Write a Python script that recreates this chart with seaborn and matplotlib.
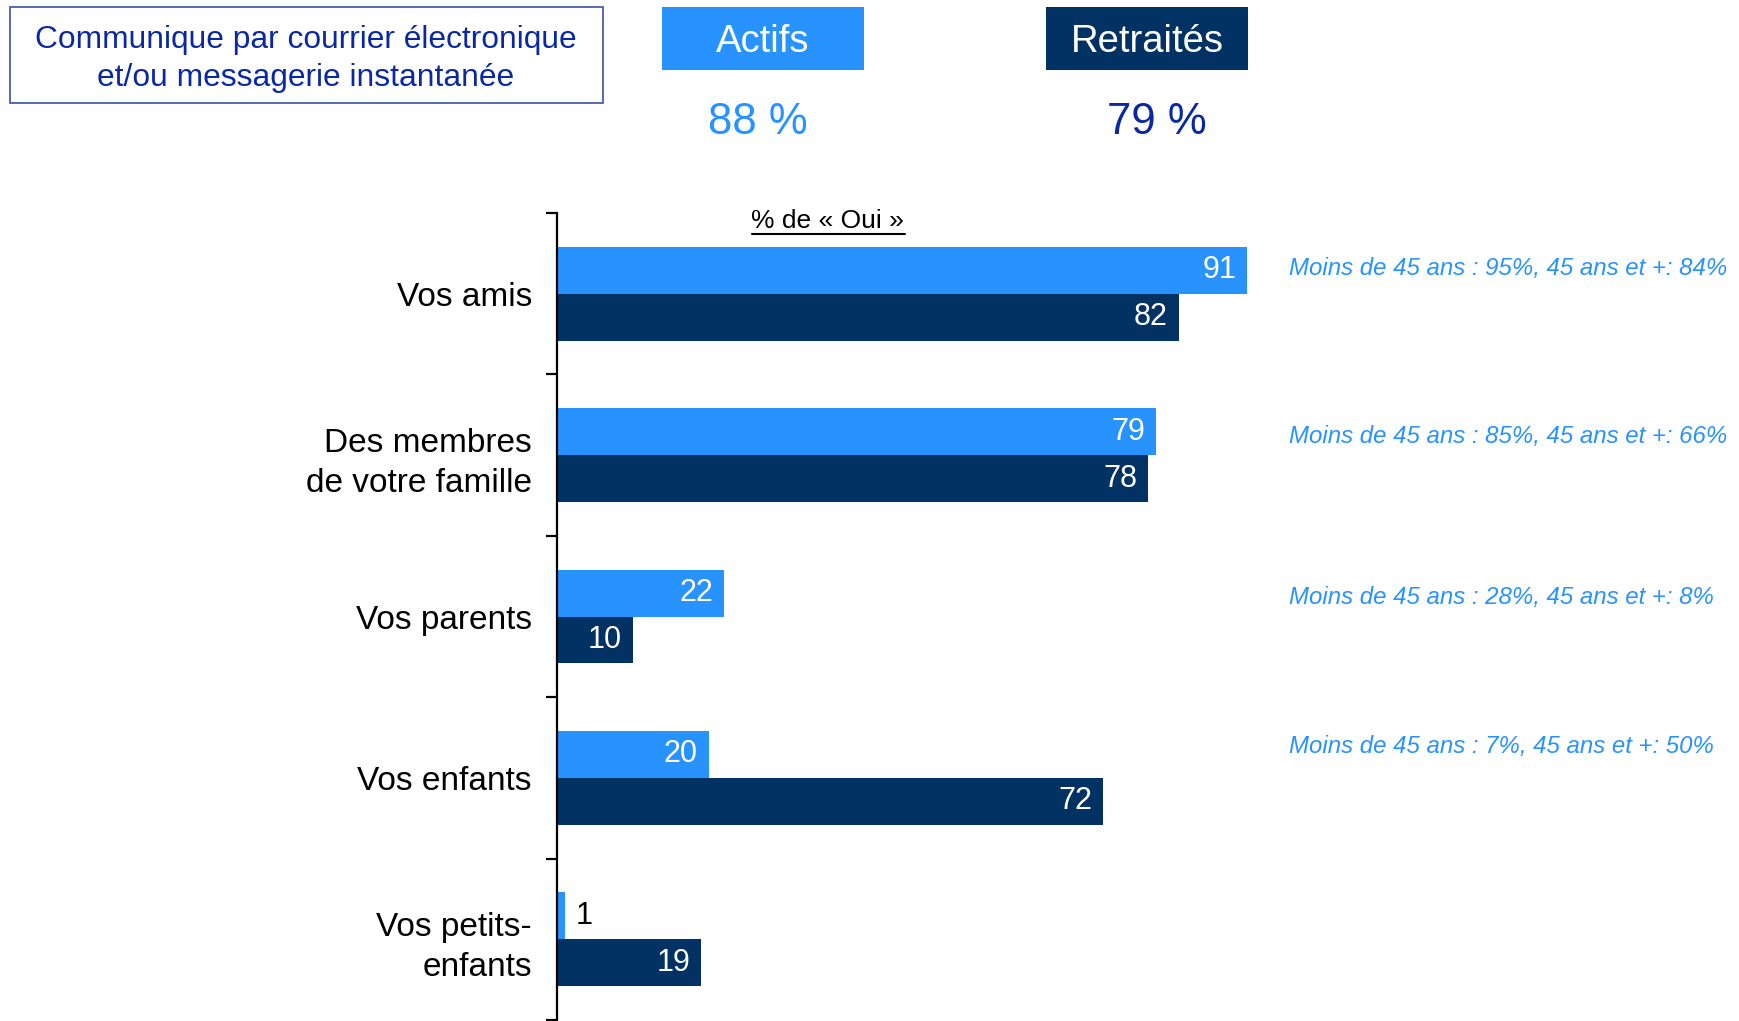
import pandas as pd
import matplotlib.pyplot as plt
import seaborn as sns
from matplotlib.patches import Rectangle

# Data
categories = ["Vos amis", "Des membres\nde votre famille", "Vos parents",
              "Vos enfants", "Vos petits-\nenfants"]
actifs = [91, 79, 22, 20, 1]
retraites = [82, 78, 10, 72, 19]
groups = ["Actifs", "Retraités"]
totals = ["88 %", "79 %"]
notes = ["Moins de 45 ans : 95%, 45 ans et +: 84%",
         "Moins de 45 ans : 85%, 45 ans et +: 66%",
         "Moins de 45 ans : 28%, 45 ans et +: 8%",
         "Moins de 45 ans : 7%, 45 ans et +: 50%"]

light_blue = "#2893fe"
navy = "#013263"
title_blue = "#0a28a0"

W, H = 1740, 1021

sns.set_style("white")
plt.rcParams['font.family'] = ['Liberation Sans', 'DejaVu Sans']
plt.rcParams['text.color'] = 'black'
plt.rcParams['ytick.color'] = 'black'
plt.rcParams['ytick.labelcolor'] = 'black'

df = pd.DataFrame({
    "categorie": categories * 2,
    "groupe": [groups[0]] * len(categories) + [groups[1]] * len(categories),
    "valeur": actifs + retraites,
})

fig = plt.figure(figsize=(W / 100, H / 100), dpi=100)
ax = fig.add_axes([557 / W, 1 / H, 758 / W, 807 / H])

sns.barplot(data=df, y="categorie", x="valeur", hue="groupe", orient="h",
            palette=[light_blue, navy], width=0.58, gap=0, ax=ax,
            legend=False, saturation=1, errorbar=None, linewidth=0)

ax.set_xlim(0, 100)
ax.set_ylim(len(categories) - 0.5, -0.5)
ax.set_xlabel("")
ax.set_ylabel("")
ax.set_xticks([])
for side in ["top", "right", "bottom"]:
    ax.spines[side].set_visible(False)
ax.spines["left"].set_color("black")
ax.spines["left"].set_linewidth(1.6)
ax.set_yticks(range(len(categories)))
ax.set_yticklabels(categories, fontsize=24, ha="right", multialignment="right",
                   linespacing=1.4)
ax.tick_params(axis="y", which="major", length=0, pad=18, left=False)
ax.set_yticks([i - 0.5 for i in range(len(categories) + 1)], minor=True)
ax.tick_params(axis="y", which="minor", length=8, width=1.6, color="black",
               direction="out", left=True)

# value labels
for cont in ax.containers:
    for bar in cont:
        w = bar.get_width()
        yc = bar.get_y() + bar.get_height() / 2
        if w < 5:
            ax.text(w + 1.5, yc, f"{w:.0f}", ha="left", va="center",
                    fontsize=22, color="black")
        else:
            ax.text(w - 1.4, yc, f"{w:.0f}", ha="right", va="center",
                    fontsize=22, color="white")

ax.text(0.357, 0.99, "% de « Oui »", transform=ax.transAxes, ha="center",
        va="center", fontsize=19)
ax.plot([0.257, 0.459], [0.974, 0.974], transform=ax.transAxes, color="black",
        lw=1.5, clip_on=False)

# notes to the right
note_y_px = [269, 436, 597, 746]
for note, ypx in zip(notes, note_y_px):
    fig.text(1289 / W, 1 - ypx / H, note, ha="left", va="center",
             fontsize=17.3, style="italic", color=light_blue)

# header box
fig.patches.append(Rectangle((10 / W, 1 - 103 / H), 593 / W, 96 / H,
                             transform=fig.transFigure, facecolor="white",
                             edgecolor="#3a50a8", lw=1.2))
fig.text(306 / W, 1 - 59 / H,
         "Communique par courrier électronique\net/ou messagerie instantanée",
         ha="center", va="center", fontsize=22.9, color=title_blue,
         linespacing=1.32)

# group boxes with totals
for x0, name, total, tx, col, tcol in [(662, groups[0], totals[0], 758, light_blue, light_blue),
                                        (1046, groups[1], totals[1], 1157, navy, title_blue)]:
    fig.patches.append(Rectangle((x0 / W, 1 - 70 / H), 202 / W, 63 / H,
                                 transform=fig.transFigure, facecolor=col,
                                 edgecolor="none"))
    fig.text((x0 + 101) / W, 1 - 42 / H, name, ha="center", va="center",
             fontsize=27.5, color="white")
    fig.text(tx / W, 1 - 122 / H, total, ha="center", va="center",
             fontsize=31.5, color=tcol)

fig.savefig("out.png", dpi=100)
